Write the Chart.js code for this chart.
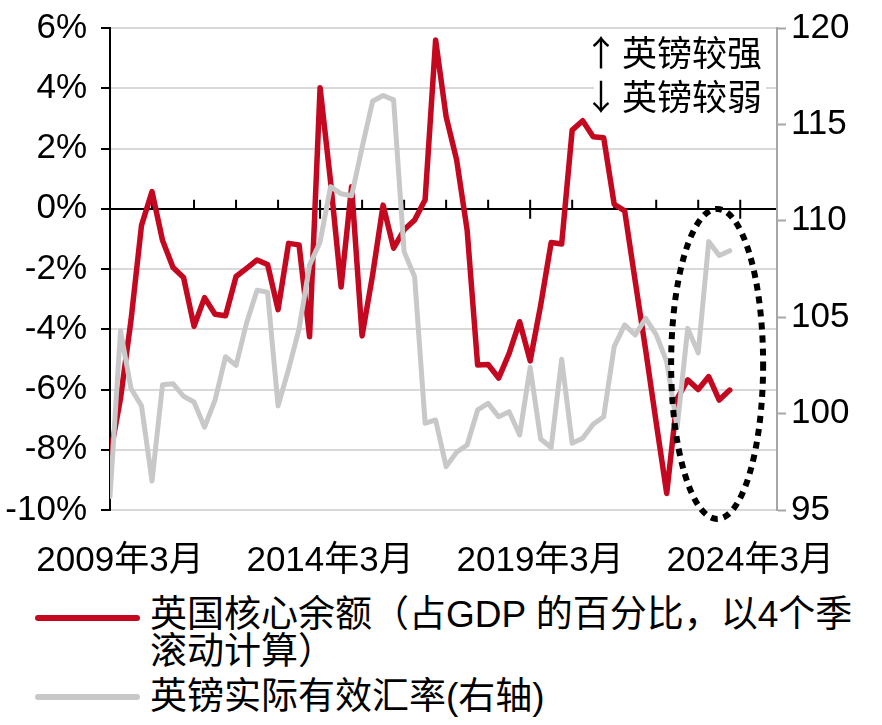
<!DOCTYPE html>
<html>
<head>
<meta charset="utf-8">
<script src="https://cdn.jsdelivr.net/npm/chart.js@4.4.1/dist/chart.umd.min.js"></script>
<style>
  body { margin: 0; background: #fff; }
  #wrap { position: relative; width: 882px; height: 725px; font-family: 'Liberation Sans', 'Noto Sans CJK SC', sans-serif; }
  #box { position: absolute; left: 0; top: 0; width: 882px; height: 590px; }
  .key { position: absolute; left: 35px; width: 105px; height: 6px; border-radius: 3px; }
  .txt { position: absolute; left: 150px; font-size: 37px; line-height: 37px; color: #000; white-space: nowrap; }
</style>
</head>
<body>
<div id="wrap">
  <div id="box"><canvas id="chart"></canvas></div>
  <div class="key" style="top:615px;background:#c4081f"></div>
  <div class="txt" style="top:596px">英国核心余额（占GDP 的百分比，以4个季<br>滚动计算）</div>
  <div class="key" style="top:694px;background:#c8c8c8"></div>
  <div class="txt" style="top:678px">英镑实际有效汇率(右轴)</div>
</div>
<script>
// quarterly data, 2009Q1 - 2023Q4
const quarters = [
  '2009年3月', '2009年6月', '2009年9月', '2009年12月',
  '2010年3月', '2010年6月', '2010年9月', '2010年12月',
  '2011年3月', '2011年6月', '2011年9月', '2011年12月',
  '2012年3月', '2012年6月', '2012年9月', '2012年12月',
  '2013年3月', '2013年6月', '2013年9月', '2013年12月',
  '2014年3月', '2014年6月', '2014年9月', '2014年12月',
  '2015年3月', '2015年6月', '2015年9月', '2015年12月',
  '2016年3月', '2016年6月', '2016年9月', '2016年12月',
  '2017年3月', '2017年6月', '2017年9月', '2017年12月',
  '2018年3月', '2018年6月', '2018年9月', '2018年12月',
  '2019年3月', '2019年6月', '2019年9月', '2019年12月',
  '2020年3月', '2020年6月', '2020年9月', '2020年12月',
  '2021年3月', '2021年6月', '2021年9月', '2021年12月',
  '2022年3月', '2022年6月', '2022年9月', '2022年12月',
  '2023年3月', '2023年6月', '2023年9月', '2023年12月'
];

// 英国核心余额, % of GDP (left axis)
const coreBalance = [
  -8.2, -6.3, -3.7, -0.55, 0.57, -1.05, -1.95, -2.28, -3.9, -2.95,
  -3.5, -3.55, -2.25, -1.98, -1.7, -1.85, -3.35, -1.15, -1.2, -4.25,
  4.02, 0.9, -2.6, 0.73, -4.22, -2.2, 0.12, -1.31, -0.7, -0.37,
  0.3, 5.6, 3.06, 1.62, -0.71, -5.19, -5.17, -5.62, -4.8, -3.75,
  -5.05, -3.2, -1.12, -1.17, 2.61, 2.92, 2.39, 2.36, 0.15, -0.07,
  -2.4, -4.7, -7.1, -9.45, -6.3, -5.68, -6.0, -5.57, -6.35, -6.02
];

// 英镑实际有效汇率 (right axis)
const gbpReer = [
  95.7, 104.3, 101.3, 100.4, 96.5, 101.5, 101.55, 100.9, 100.6, 99.3,
  100.7, 102.95, 102.5, 104.7, 106.4, 106.3, 100.4, 102.3, 104.4, 107.7,
  108.9, 111.77, 111.4, 111.3, 113.8, 116.2, 116.5, 116.27, 108.4, 107.1,
  99.5, 99.67, 97.25, 98.0, 98.37, 100.19, 100.53, 99.84, 100.1, 98.89,
  102.4, 98.68, 98.24, 102.82, 98.46, 98.72, 99.45, 99.84, 103.47, 104.6,
  104.08, 104.94, 104.1, 102.7, 99.3, 104.42, 103.15, 108.92, 108.2, 108.45
];

// x tick positions (quarter index) and labels
const xTickPos = [0, 20, 40, 60];
const xTickLabels = ['2009年3月', '2014年3月', '2019年3月', '2024年3月'];
const noteLines = ['英镑较强', '英镑较弱'];
const noteArrows = ['↑', '↓'];

const RED = '#c4081f';
const GREY = '#c8c8c8';
const FONT = "'Liberation Sans', 'Noto Sans CJK SC', sans-serif";

// 0% axis tick marks, note box and the dotted ellipse
const decor = {
  id: 'decor',
  beforeDatasetsDraw(chart) {
    const { ctx, chartArea, scales: { x, y } } = chart;
    const y0 = y.getPixelForValue(0);
    ctx.save();
    ctx.strokeStyle = '#000';
    ctx.lineWidth = 2;
    for (let q = 0; q <= 63; q += 4) {
      const px = x.getPixelForValue(q);
      ctx.beginPath();
      ctx.moveTo(px, y0 - 9);
      ctx.lineTo(px, q % 20 === 0 ? y0 + 10 : y0);
      ctx.stroke();
    }
    // note in the top right corner
    const left = chartArea.right - 183;
    ctx.fillStyle = '#fff';
    ctx.fillRect(left, chartArea.top + 5, 172, 88);
    ctx.fillStyle = '#000';
    ctx.textBaseline = 'middle';
    ctx.font = "35px 'Noto Sans CJK SC'";
    ctx.textAlign = 'left';
    ctx.fillText(noteLines[0], left + 28, chartArea.top + 25);
    ctx.fillText(noteLines[1], left + 28, chartArea.top + 69);
    ctx.textAlign = 'center';
    ctx.fillText(noteArrows[0], left + 7, chartArea.top + 25);
    ctx.fillText(noteArrows[1], left + 7, chartArea.top + 69);
    ctx.restore();
  },
  afterDatasetsDraw(chart) {
    const { ctx, scales: { x, y } } = chart;
    const cx = x.getPixelForValue(57.8);
    const cy = y.getPixelForValue(-5.15);
    ctx.save();
    ctx.strokeStyle = '#000';
    ctx.lineWidth = 6;
    ctx.setLineDash([7, 6]);
    ctx.beginPath();
    ctx.ellipse(cx, cy, 46, 155, 0, 0, Math.PI * 2);
    ctx.stroke();
    ctx.restore();
  }
};

new Chart(document.getElementById('chart'), {
  type: 'line',
  data: {
    datasets: [
      {
        label: '英国核心余额（占GDP 的百分比，以4个季滚动计算）',
        data: quarters.map((q, i) => ({ x: i, y: coreBalance[i] })),
        borderColor: RED,
        borderWidth: 5.5,
        pointRadius: 0,
        tension: 0,
        borderJoinStyle: 'round',
        borderCapStyle: 'round',
        yAxisID: 'y',
        order: 1
      },
      {
        label: '英镑实际有效汇率(右轴)',
        data: quarters.map((q, i) => ({ x: i, y: gbpReer[i] })),
        borderColor: GREY,
        borderWidth: 5,
        pointRadius: 0,
        tension: 0,
        borderJoinStyle: 'round',
        borderCapStyle: 'round',
        yAxisID: 'y1',
        order: 0
      }
    ]
  },
  options: {
    responsive: true,
    maintainAspectRatio: false,
    animation: false,
    layout: { padding: { top: 28, left: 0, right: 0, bottom: 0 } },
    plugins: { legend: { display: false }, tooltip: { enabled: false } },
    scales: {
      x: {
        type: 'linear',
        min: 0,
        max: 63.5,
        afterBuildTicks: s => { s.ticks = xTickPos.map(v => ({ value: v })); },
        ticks: {
          callback: v => xTickLabels[xTickPos.indexOf(v)],
          autoSkip: false,
          maxRotation: 0,
          color: '#000',
          font: { size: 35, family: FONT, lineHeight: 1.45 },
          padding: 26,
          labelOffset: 10
        },
        grid: { display: false, drawTicks: false },
        border: { display: false },
        afterFit: s => { s.height = 80; }
      },
      y: {
        position: 'left',
        min: -10,
        max: 6,
        ticks: {
          stepSize: 2,
          callback: v => v + '%',
          color: '#000',
          font: { size: 35, family: FONT, lineHeight: 0.8 },
          padding: 14
        },
        grid: {
          color: c => (c.tick && c.tick.value === 0 ? '#000' : '#d9d9d9'),
          lineWidth: 2,
          tickLength: 9,
          tickColor: '#000',
          tickWidth: 2
        },
        border: { color: '#000', width: 2 },
        afterFit: s => { s.width = 110; }
      },
      y1: {
        position: 'right',
        min: 95,
        max: 120,
        ticks: {
          stepSize: 5,
          color: '#000',
          font: { size: 35, family: FONT, lineHeight: 0.8 },
          padding: 5
        },
        grid: { drawOnChartArea: false, tickLength: 9, tickColor: '#a6a6a6', tickWidth: 2 },
        border: { color: '#a6a6a6', width: 2 },
        afterFit: s => { s.width = 105; }
      }
    }
  },
  plugins: [decor]
});
</script>
</body>
</html>
